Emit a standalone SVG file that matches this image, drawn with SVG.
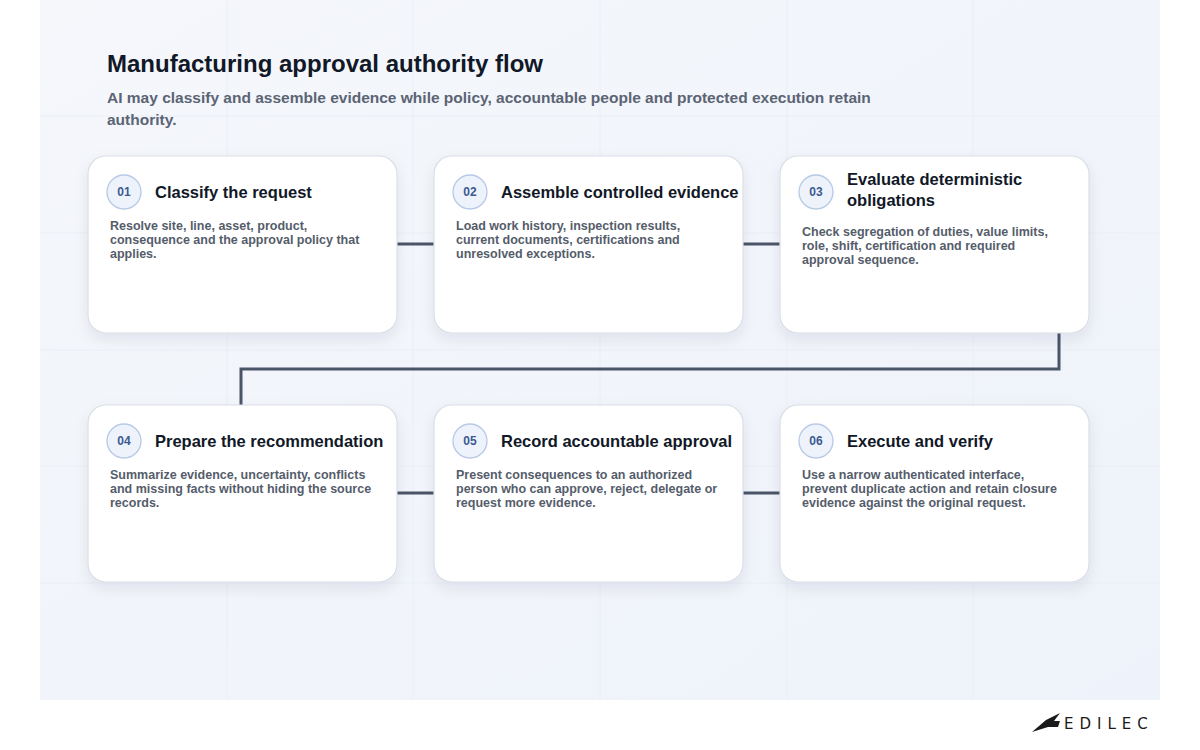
<svg xmlns="http://www.w3.org/2000/svg" width="1200" height="750" viewBox="0 0 1200 750">
<defs>
<style>
.card{fill:#fff;stroke:#d9dee7;stroke-width:1.2}
.badge{fill:#eef3fb;stroke:#b7c9e6;stroke-width:1.3}
.num{font-family:"Liberation Sans",Arial,sans-serif;font-weight:bold;font-size:12px;fill:#3b5a92;text-anchor:middle}
.title{font-family:"Liberation Sans",Arial,sans-serif;font-weight:bold;font-size:16.5px;fill:#111827}
.body{font-family:"Liberation Sans",Arial,sans-serif;font-weight:bold;font-size:12.5px;fill:#555d6b}
.conn{fill:none;stroke:#4a5568;stroke-width:3}
.grid{stroke:#eaeef5;stroke-width:1}
</style>
<filter id="sh" x="-10%" y="-10%" width="120%" height="130%"><feDropShadow dx="0" dy="6" stdDeviation="7" flood-color="#1f2a44" flood-opacity="0.08"/></filter>
<linearGradient id="bg" x1="0" y1="0" x2="1" y2="1"><stop offset="0" stop-color="#f5f7fb"/><stop offset="1" stop-color="#eef2fa"/></linearGradient>
</defs>
<rect width="1200" height="750" fill="#fff"/>
<rect x="40" y="0" width="1120" height="700" fill="url(#bg)"/>
<g>
<line class="grid" x1="40" y1="116" x2="1160" y2="116"/><line class="grid" x1="40" y1="233" x2="1160" y2="233"/><line class="grid" x1="40" y1="350" x2="1160" y2="350"/><line class="grid" x1="40" y1="466" x2="1160" y2="466"/><line class="grid" x1="40" y1="583" x2="1160" y2="583"/>
<line class="grid" x1="227" y1="0" x2="227" y2="700"/><line class="grid" x1="413" y1="0" x2="413" y2="700"/><line class="grid" x1="600" y1="0" x2="600" y2="700"/><line class="grid" x1="787" y1="0" x2="787" y2="700"/><line class="grid" x1="973" y1="0" x2="973" y2="700"/>
</g>
<text x="107" y="72" font-family="Liberation Sans,Arial,sans-serif" font-weight="bold" font-size="24" fill="#111827">Manufacturing approval authority flow</text>
<text font-family="Liberation Sans,Arial,sans-serif" font-weight="bold" font-size="15.5" fill="#5b6474"><tspan x="107" y="103">AI may classify and assemble evidence while policy, accountable people and protected execution retain</tspan><tspan x="107" y="125">authority.</tspan></text>
<g id="connectors">
<line class="conn" x1="397" y1="244" x2="434" y2="244"/>
<line class="conn" x1="743" y1="244" x2="780" y2="244"/>
<polyline class="conn" points="1059,333 1059,369 241,369 241,405"/>
<line class="conn" x1="397" y1="493" x2="434" y2="493"/>
<line class="conn" x1="743" y1="493" x2="780" y2="493"/>
</g>
<g id="n1"><rect class="card" filter="url(#sh)" x="88" y="156" width="309" height="177" rx="18"/><circle class="badge" cx="124" cy="192" r="17"/><text class="num" x="124" y="196">01</text><text class="title" x="155" y="198">Classify the request</text><text class="body"><tspan x="110" y="230">Resolve site, line, asset, product,</tspan><tspan x="110" y="244">consequence and the approval policy that</tspan><tspan x="110" y="258">applies.</tspan></text></g>
<g id="n2"><rect class="card" filter="url(#sh)" x="434" y="156" width="309" height="177" rx="18"/><circle class="badge" cx="470" cy="192" r="17"/><text class="num" x="470" y="196">02</text><text class="title" x="501" y="198">Assemble controlled evidence</text><text class="body"><tspan x="456" y="230">Load work history, inspection results,</tspan><tspan x="456" y="244">current documents, certifications and</tspan><tspan x="456" y="258">unresolved exceptions.</tspan></text></g>
<g id="n3"><rect class="card" filter="url(#sh)" x="780" y="156" width="309" height="177" rx="18"/><circle class="badge" cx="816" cy="192" r="17"/><text class="num" x="816" y="196">03</text><text class="title"><tspan x="847" y="185">Evaluate deterministic</tspan><tspan x="847" y="206">obligations</tspan></text><text class="body"><tspan x="802" y="236">Check segregation of duties, value limits,</tspan><tspan x="802" y="250">role, shift, certification and required</tspan><tspan x="802" y="264">approval sequence.</tspan></text></g>
<g id="n4"><rect class="card" filter="url(#sh)" x="88" y="405" width="309" height="177" rx="18"/><circle class="badge" cx="124" cy="441" r="17"/><text class="num" x="124" y="445">04</text><text class="title" x="155" y="447">Prepare the recommendation</text><text class="body"><tspan x="110" y="479">Summarize evidence, uncertainty, conflicts</tspan><tspan x="110" y="493">and missing facts without hiding the source</tspan><tspan x="110" y="507">records.</tspan></text></g>
<g id="n5"><rect class="card" filter="url(#sh)" x="434" y="405" width="309" height="177" rx="18"/><circle class="badge" cx="470" cy="441" r="17"/><text class="num" x="470" y="445">05</text><text class="title" x="501" y="447">Record accountable approval</text><text class="body"><tspan x="456" y="479">Present consequences to an authorized</tspan><tspan x="456" y="493">person who can approve, reject, delegate or</tspan><tspan x="456" y="507">request more evidence.</tspan></text></g>
<g id="n6"><rect class="card" filter="url(#sh)" x="780" y="405" width="309" height="177" rx="18"/><circle class="badge" cx="816" cy="441" r="17"/><text class="num" x="816" y="445">06</text><text class="title" x="847" y="447">Execute and verify</text><text class="body"><tspan x="802" y="479">Use a narrow authenticated interface,</tspan><tspan x="802" y="493">prevent duplicate action and retain closure</tspan><tspan x="802" y="507">evidence against the original request.</tspan></text></g>
<g id="logo">
<path d="M1032,732 L1046,720 L1060,713 L1054,721 L1060,721 L1058,727 L1048,727 Z" fill="#1a1a1a"/>
<text x="1064" y="729" font-family="DejaVu Sans,sans-serif" font-size="15" letter-spacing="6" fill="#1a1a1a">EDILEC</text>
</g>
</svg>
